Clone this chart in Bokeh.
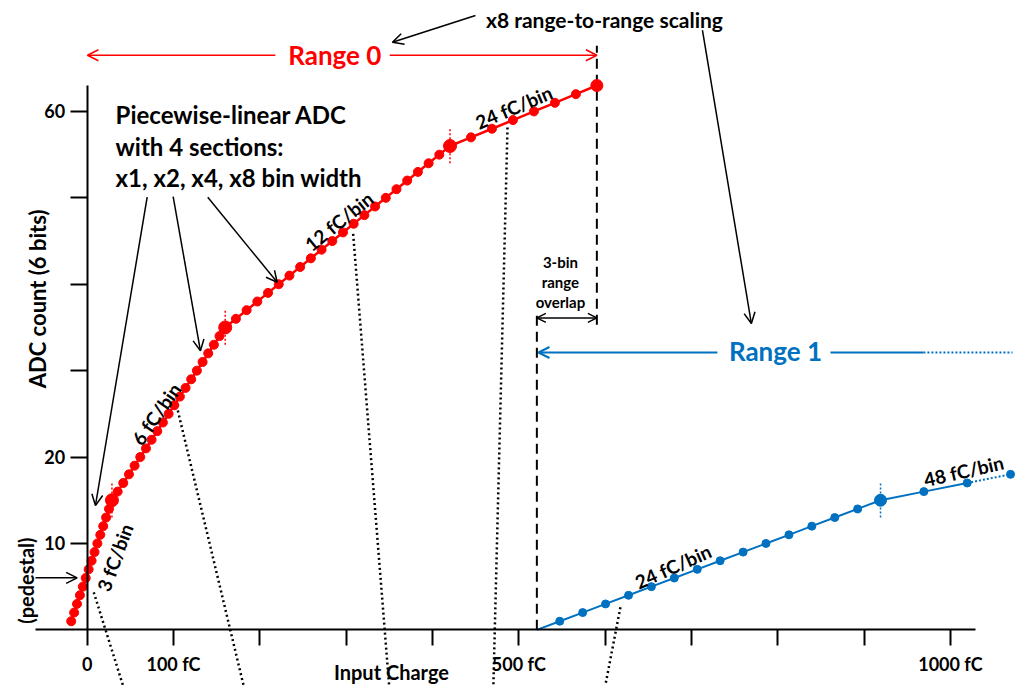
from bokeh.plotting import figure
from bokeh.models import (LinearAxis, FixedTicker, Label, Arrow, OpenHead, Range1d)
from bokeh.embed import file_html
from bokeh.resources import INLINE

# ---------------- data ----------------
# Range 0 (red): ADC count vs input charge (fC)
red_counts = [1, 2, 3, 4, 5, 6, 7, 8, 9, 10, 11, 12, 13, 14, 15,
              16, 17, 18, 19, 20, 21, 22, 23, 24, 25, 26, 27, 28, 29, 30,
              31, 32, 33, 34, 35,
              36, 37, 38, 39, 40, 41, 42, 43, 44, 45, 46, 47, 48, 49, 50,
              51, 52, 53, 54, 55, 56,
              57, 58, 59, 60, 61, 62, 63]
red_charge = [-18.5, -15.1, -11.8, -8.4, -5.0, -1.7, 1.7, 5.1, 8.5, 11.8, 15.2, 18.6, 21.9, 25.3, 28.7,
              35.3, 41.8, 48.4, 54.9, 61.5, 68.1, 74.6, 81.2, 87.7, 94.3, 100.9, 107.4, 114.0, 120.5, 127.1,
              133.7, 140.2, 146.8, 153.3, 159.9,
              172.3, 184.7, 197.1, 209.5, 221.9, 234.3, 246.7, 259.1, 271.5, 283.9, 296.3, 308.7, 321.1,
              333.5, 345.9, 358.3, 370.7, 383.1, 395.5, 407.9, 420.3,
              444.6, 468.9, 493.2, 517.5, 541.8, 566.1, 590.4]
red_break_counts = [15, 35, 56]
red_break_charge = [28.7, 159.9, 420.3]
red_end_count = [63]
red_end_charge = [590.4]

# Range 1 (blue)
blue_counts = [0, 1, 2, 3, 4, 5, 6, 7, 8, 9, 10, 11, 12, 13, 14, 15, 16, 17]
blue_charge = [520.9, 547.4, 574.0, 600.5, 627.1, 653.6, 680.1, 706.7, 733.2, 759.8,
               786.3, 812.9, 839.4, 866.0, 892.5, 919.0, 969.2, 1019.4]
blue_ext_counts = [17, 18]
blue_ext_charge = [1019.4, 1069.6]
blue_break_counts = [15]
blue_break_charge = [919.0]

# axes
x_ticks = [0, 100, 200, 300, 400, 500, 600, 700, 800, 900, 1000]
x_tick_labels = {0: "0", 100: "100 fC", 200: "", 300: "", 400: "", 500: "500 fC",
                 600: "", 700: "", 800: "", 900: "", 1000: "1000 fC"}
y_ticks = [10, 20, 30, 40, 50, 60]
y_tick_labels = {10: "10", 20: "20", 30: "", 40: "", 50: "", 60: "60"}

# ---------------- styling ----------------
RED = "#FF0000"
BLUE = "#0070C0"
FONT = "Lato"

p = figure(width=1016, height=685,
           x_range=Range1d(-100.4, 1076.5), y_range=Range1d(-6.44, 72.84),
           x_axis_type=None, y_axis_type=None,
           toolbar_location=None, output_backend="svg", min_border=0)
p.outline_line_color = None
p.background_fill_color = "white"
p.border_fill_color = "white"


def style_axis(ax, tick_out):
    ax.axis_line_width = 2
    ax.axis_line_color = "black"
    ax.major_tick_line_width = 2
    ax.major_tick_line_color = "black"
    ax.major_tick_in = 0
    ax.major_tick_out = tick_out
    ax.minor_tick_line_color = None
    ax.major_label_text_font = FONT
    ax.major_label_text_font_style = "bold"
    ax.major_label_text_font_size = "18px"
    ax.major_label_text_color = "black"


xaxis = LinearAxis(fixed_location=0, ticker=FixedTicker(ticks=x_ticks), bounds=(-60, 1029))
xaxis.major_label_overrides = x_tick_labels
style_axis(xaxis, 16)
xaxis.major_label_standoff = 7
p.add_layout(xaxis, "below")

yaxis = LinearAxis(fixed_location=0, ticker=FixedTicker(ticks=y_ticks), bounds=(0, 63))
yaxis.major_label_overrides = y_tick_labels
style_axis(yaxis, 17)
yaxis.major_label_standoff = 5
p.add_layout(yaxis, "left")


def label(x, y, text, size, color="black", bold=True, angle=0, align="center"):
    p.add_layout(Label(x=x, y=y, text=text, text_font=FONT, text_font_size=f"{size}px",
                       text_font_style="bold" if bold else "normal", text_color=color,
                       text_align=align, text_baseline="middle", angle=angle, angle_units="deg"))


def arrow(x0, y0, x1, y1, color="black", width=1.5, both=False, size=11):
    head = OpenHead(size=size, line_color=color, line_width=width)
    kw = dict(x_start=x0, y_start=y0, x_end=x1, y_end=y1, line_color=color,
              line_width=width, end=head)
    if both:
        kw["start"] = OpenHead(size=size, line_color=color, line_width=width)
    else:
        kw["start"] = None
    p.add_layout(Arrow(**kw))


# dotted "zoom" guide lines (black)
p.segment(x0=[7.6, 105.0, 308.1, 486.9, 617.7], y0=[4.35, 25.38, 45.83, 58.14, 2.62],
          x1=[44.4, 183.4, 350.5, 470.3, 598.4], y1=[-7.37, -7.37, -7.37, -7.37, -7.37],
          line_color="black", line_width=2.5, line_dash="2 3")

# range boundary dashed lines
p.segment(x0=[590.4, 520.9], y0=[35.3, 0], x1=[590.4, 520.9], y1=[67.6, 37.0],
          line_color="black", line_width=2, line_dash="10 6")

# red curve
p.line(red_charge, red_counts, line_color=RED, line_width=2.5)
p.scatter(red_charge, red_counts, size=9, fill_color=RED, line_color=RED)
p.segment(x0=red_break_charge, y0=[c - 2 for c in red_break_counts],
          x1=red_break_charge, y1=[c + 2 for c in red_break_counts],
          line_color=RED, line_width=1.5, line_dash="2 2")
p.scatter(red_break_charge, red_break_counts, size=13, fill_color=RED, line_color=RED)
p.scatter(red_end_charge, red_end_count, size=12, fill_color=RED, line_color=RED)

# blue curve
p.line(blue_charge, blue_counts, line_color=BLUE, line_width=2)
p.line(blue_ext_charge, blue_ext_counts, line_color=BLUE, line_width=2, line_dash="2 2")
p.scatter(blue_charge[1:] + blue_ext_charge[1:], blue_counts[1:] + blue_ext_counts[1:],
          size=8, fill_color=BLUE, line_color=BLUE)
p.segment(x0=blue_break_charge, y0=[c - 2 for c in blue_break_counts],
          x1=blue_break_charge, y1=[c + 2 for c in blue_break_counts],
          line_color=BLUE, line_width=1.5, line_dash="2 2")
p.scatter(blue_break_charge, blue_break_counts, size=12, fill_color=BLUE, line_color=BLUE)

# Range 0 annotation
arrow(218, 66.5, 0.3, 66.5, color=RED, width=1.5)
arrow(350.5, 66.5, 590.4, 66.5, color=RED, width=1.5)
label(286.8, 66.5, "Range 0", 26, color=RED)

# Range 1 annotation
arrow(730, 32.1, 522.8, 32.1, color=BLUE, width=2)
p.segment(x0=[861], y0=[32.1], x1=[968.7], y1=[32.1], line_color=BLUE, line_width=2)
p.segment(x0=[968.7], y0=[32.1], x1=[1071.8], y1=[32.1], line_color=BLUE, line_width=2,
          line_dash="2 2")
label(797.3, 32.33, "Range 1", 26, color=BLUE)

# x8 scaling
label(599.2, 70.6, "x8 range-to-range scaling", 21)
arrow(449.8, 71.1, 353.6, 68.0)
arrow(712.7, 69.4, 769.4, 35.45)

# overlap
arrow(520.9, 36.1, 590.4, 36.1, both=True, size=9)
label(548.2, 42.55, "3-bin", 15)
label(548.2, 40.23, "range", 15)
label(548.2, 37.92, "overlap", 15)

# piecewise text
label(32.9, 59.6, "Piecewise-linear ADC", 24, align="left")
label(32.9, 55.9, "with 4 sections:", 24, align="left")
label(32.9, 52.3, "x1, x2, x4, x8 bin width", 24, align="left")
arrow(69.5, 50.07, 9.6, 14.4)
arrow(99.6, 50.15, 131.2, 32.3)
arrow(139.7, 50.07, 220.1, 40.23)

# pedestal
arrow(-59.9, 6.02, -11.6, 6.02)
label(-70.3, 5.7, "(pedestal)", 20, angle=90)

# slope labels
label(32.0, 8.37, "3 fC/bin", 19, angle=70)
label(80.0, 25.0, "6 fC/bin", 19, angle=55)
label(291.5, 47.3, "12 fC/bin", 19, angle=39)
label(494.2, 60.5, "24 fC/bin", 19, angle=23)
label(678.6, 7.35, "24 fC/bin", 19, angle=24)
label(1015.4, 18.4, "48 fC/bin", 19, angle=13)

# axis titles
label(-57.6, 38.3, "ADC count (6 bits)", 22, angle=90)
label(352.5, -4.85, "Input Charge", 20)

open("out.html", "w").write(file_html(p, INLINE))
